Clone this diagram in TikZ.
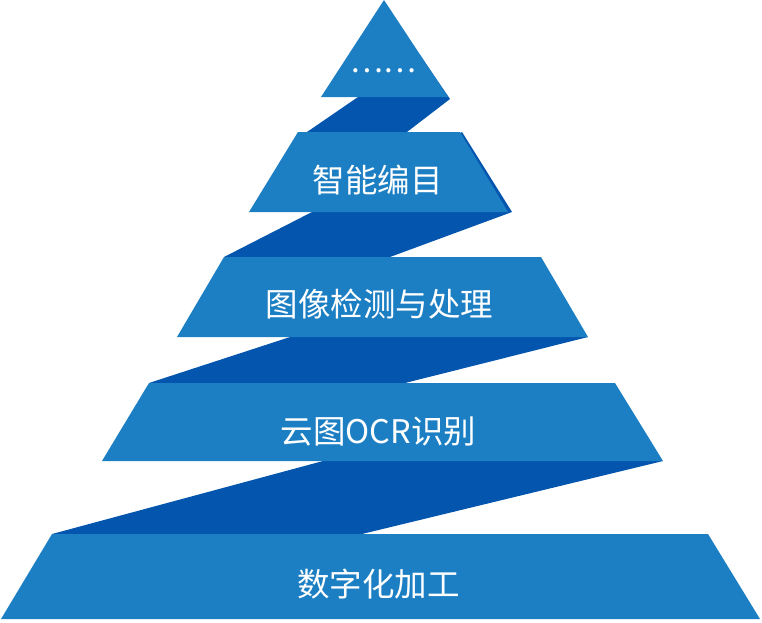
\documentclass[tikz,border=0pt]{standalone}
\usepackage{fontspec}
\newfontfamily\cjk{Noto Sans CJK SC}
\definecolor{lightblue}{HTML}{1C7FC3}
\definecolor{darkblue}{HTML}{0455AE}
\tikzset{
  band/.style={fill=darkblue, draw=none},
  tier/.style={fill=lightblue, draw=none},
  label/.style={text=white, font=\cjk\fontsize{32.5}{32.5}\selectfont, anchor=base, inner sep=0pt}
}
\begin{document}
\begin{tikzpicture}[x=1pt,y=-1pt]
\useasboundingbox (0,0) rectangle (762,622);
% dark ribbon bands
\path[band] (358,97) -- (420,55) -- (450,99) -- (407,132) -- (307,132) -- cycle;
\path[band] (312,212) -- (462,132) -- (512,212) -- (390,257) -- (224,257) -- cycle;
\path[band] (290,337) -- (588,337) -- (405,383) -- (149,383) -- cycle;
\path[band] (323,461) -- (663,461) -- (362,534) -- (52,534) -- cycle;
% tiers
\path[tier] (384,0) -- (448,97) -- (321,97) -- cycle;
\path[tier] (298,132) -- (460,132) -- (508,212) -- (249,212) -- cycle;
\path[tier] (224,257) -- (541,257) -- (588,337) -- (177,337) -- cycle;
\path[tier] (149,383) -- (615,383) -- (663,461) -- (102,461) -- cycle;
\path[tier] (52,534) -- (708,534) -- (760,619) -- (1,619) -- cycle;
% labels
\node[label, font=\cjk\fontsize{31}{31}\selectfont] (t1) at (383,72) {……};
\node[label] (t2) at (377.5,192) {智能编目};
\node[label] (t3) at (379.5,316) {图像检测与处理};
\node[label] (t4) at (378.5,443) {云图OCR识别};
\node[label] (t5) at (378.5,596) {数字化加工};
\end{tikzpicture}
\end{document}
